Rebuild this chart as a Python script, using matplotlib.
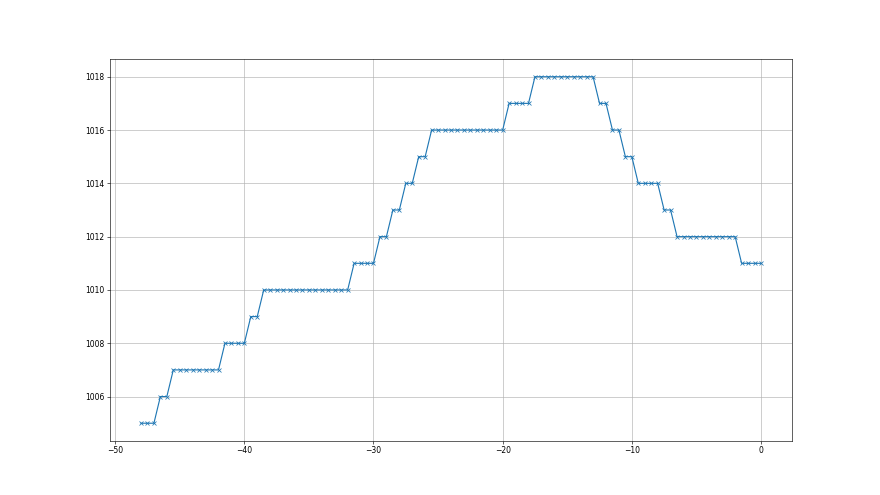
import numpy as np
from matplotlib import pyplot as plt

# sample positions, every half unit from -48 to 0
x = np.arange(-48.0, 0.5, 0.5)

pressure = [
    1005, 1005, 1005,
    1006, 1006,
    1007, 1007, 1007, 1007, 1007, 1007, 1007, 1007,
    1008, 1008, 1008, 1008,
    1009, 1009,
    1010, 1010, 1010, 1010, 1010, 1010, 1010, 1010, 1010, 1010, 1010, 1010, 1010, 1010,
    1011, 1011, 1011, 1011,
    1012, 1012,
    1013, 1013,
    1014, 1014,
    1015, 1015,
    1016, 1016, 1016, 1016, 1016, 1016, 1016, 1016, 1016, 1016, 1016, 1016,
    1017, 1017, 1017, 1017,
    1018, 1018, 1018, 1018, 1018, 1018, 1018, 1018, 1018, 1018,
    1017, 1017,
    1016, 1016,
    1015, 1015,
    1014, 1014, 1014, 1014,
    1013, 1013,
    1012, 1012, 1012, 1012, 1012, 1012, 1012, 1012, 1012, 1012,
    1011, 1011, 1011, 1011,
]

fig, ax = plt.subplots(figsize=(16, 9), dpi=55)
ax.plot(x, pressure, "x-", color="#1f77b4")
ax.grid()

ax.set_yticks([1006, 1008, 1010, 1012, 1014, 1016, 1018])
ax.set_xticks([-50, -40, -30, -20, -10, 0])

plt.savefig("out.png", dpi=55)
